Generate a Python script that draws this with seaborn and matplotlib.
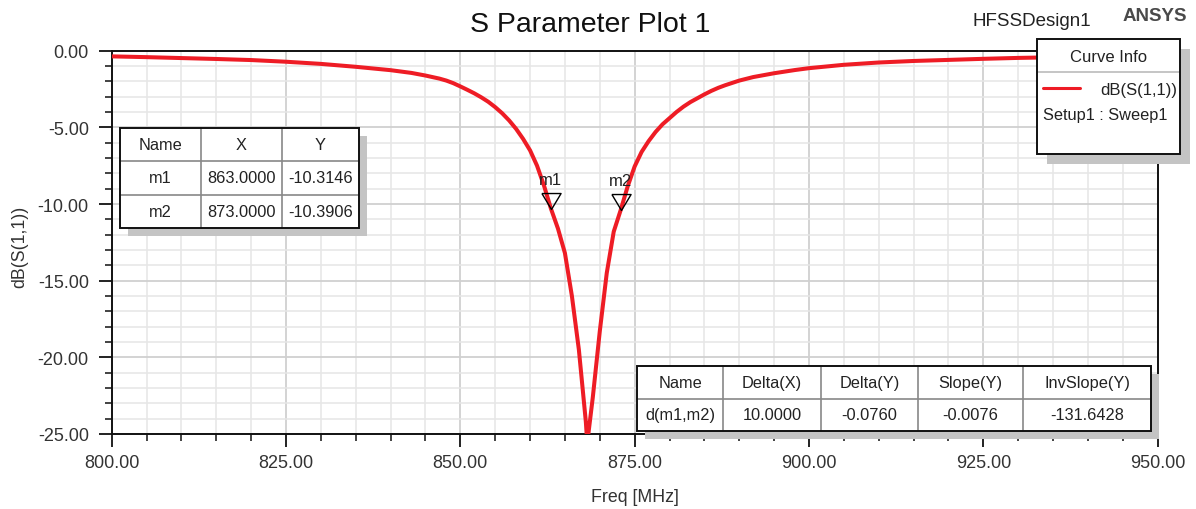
import pandas as pd
import matplotlib
matplotlib.use("Agg")
import matplotlib.pyplot as plt
import seaborn as sns
from matplotlib.patches import Rectangle
from matplotlib.lines import Line2D
from matplotlib.ticker import MultipleLocator, FormatStrFormatter

# --- Data ---
freq_mhz = [800, 805, 810, 815, 820, 825, 830, 835, 840, 843, 845, 847, 848, 849, 850,
            851, 852, 853, 854, 855, 856, 857, 858, 859, 860, 861, 862, 863, 864, 865,
            866, 867, 868, 868.2, 869, 870, 871, 872, 873, 874, 875, 876, 877, 878, 879,
            880, 881, 882, 883, 884, 885, 886, 887, 888, 889, 890, 892, 895, 898, 900,
            905, 910, 915, 920, 925, 930, 935, 940, 945, 950]
s11_db = [-0.37, -0.42, -0.48, -0.54, -0.61, -0.72, -0.86, -1.05, -1.27, -1.45, -1.62,
          -1.82, -1.95, -2.12, -2.33, -2.55, -2.78, -3.04, -3.33, -3.68, -4.08, -4.55,
          -5.1, -5.75, -6.5, -7.5, -8.8, -10.31, -11.6, -13.2, -16.0, -19.5, -24.2, -25.6,
          -22.6, -18.3, -14.5, -11.8, -10.39, -8.85, -7.55, -6.6, -5.9, -5.3, -4.8, -4.4,
          -4.0, -3.65, -3.35, -3.1, -2.85, -2.62, -2.42, -2.25, -2.1, -1.95, -1.72,
          -1.47, -1.26, -1.14, -0.92, -0.77, -0.67, -0.6, -0.53, -0.47, -0.43, -0.39,
          -0.36, -0.33]

marker_names = ["m1", "m2"]
marker_freq = [863.0, 873.0]
marker_db = [-10.3146, -10.3906]

delta_header = ["Name", "Delta(X)", "Delta(Y)", "Slope(Y)", "InvSlope(Y)"]
delta_values = ["d(m1,m2)", "10.0000", "-0.0760", "-0.0076", "-131.6428"]

W, H = 1196, 510


def fx(px):
    return px / W


def fy(py):
    return 1 - py / H


sns.set_theme(style="white")
plt.rcParams["font.family"] = ["Liberation Sans", "DejaVu Sans"]

fig = plt.figure(figsize=(W / 100, H / 100), dpi=100)
ax = fig.add_axes([fx(111.7), fy(435), (1157.6 - 111.7) / W, (435 - 51.7) / H])

df = pd.DataFrame({"Freq": freq_mhz, "dB": s11_db})
sns.lineplot(data=df, x="Freq", y="dB", color="#ee1c25", linewidth=2.9, ax=ax, zorder=3)

# markers: hollow triangles with the tip on the point
tri = [(-0.6, 1.0), (0.6, 1.0), (0.0, 0.0), (-0.6, 1.0)]
ax.plot(marker_freq, marker_db, linestyle="none", marker=tri, markersize=23,
        markerfacecolor="none", markeredgecolor="black", markeredgewidth=1.0, zorder=4)
for name, f, d in zip(marker_names, marker_freq, marker_db):
    ax.annotate(name, (f, d), xytext=(0, 21), textcoords="offset points",
                ha="center", va="center", fontsize=12, color="#222")

ax.set_xlim(800, 950)
ax.set_ylim(-25, 0)
ax.xaxis.set_major_locator(MultipleLocator(25))
ax.xaxis.set_minor_locator(MultipleLocator(5))
ax.yaxis.set_major_locator(MultipleLocator(5))
ax.yaxis.set_minor_locator(MultipleLocator(1))
ax.xaxis.set_major_formatter(FormatStrFormatter("%.2f"))
ax.yaxis.set_major_formatter(FormatStrFormatter("%.2f"))
ax.grid(which="major", color="#d0d0d0", linewidth=1.3)
ax.grid(which="minor", color="#e6e6e6", linewidth=1.1)
ax.set_axisbelow(True)
ax.tick_params(which="both", bottom=True, left=True, top=False, right=False,
               direction="out", color="#111")
ax.tick_params(which="major", length=9.5, width=1.3, labelsize=13, labelcolor="#333")
ax.tick_params(axis="y", which="major", pad=7)
ax.tick_params(axis="x", which="major", pad=5)
ax.tick_params(which="minor", length=5, width=1.1)
for sp in ax.spines.values():
    sp.set_visible(True)
    sp.set_color("#111")
    sp.set_linewidth(1.4)

ax.set_xlabel("Freq [MHz]", fontsize=12.8, color="#333")
ax.set_ylabel("dB(S(1,1))", fontsize=12.8, color="#333")
ax.xaxis.set_label_coords(0.5, -0.14)
ax.yaxis.set_label_coords(-0.08, 0.49)

fig.text(fx(590), fy(32), "S Parameter Plot 1", ha="center", va="baseline",
         fontsize=20.5, color="#111")
fig.text(fx(972), fy(26), "HFSSDesign1", ha="left", va="baseline", fontsize=13.5, color="#222")
fig.text(fx(1123), fy(21), "ANSYS", ha="left", va="baseline", fontsize=13.5,
         fontweight="bold", color="#4a4a4a")


def box(x0, y0, w, h, shadow=8):
    fig.add_artist(Rectangle((fx(x0 + shadow), fy(y0 + h + shadow)), w / W, h / H,
                             transform=fig.transFigure, facecolor="#c4c4c4",
                             edgecolor="none", zorder=5))
    fig.add_artist(Rectangle((fx(x0), fy(y0 + h)), w / W, h / H,
                             transform=fig.transFigure, facecolor="white",
                             edgecolor="none", zorder=6))


def outline(x0, y0, w, h):
    fig.add_artist(Rectangle((fx(x0), fy(y0 + h)), w / W, h / H,
                             transform=fig.transFigure, facecolor="none",
                             edgecolor="#111", linewidth=1.4, zorder=8))


def draw_table(x0, y0, col_w, row_h, rows, fontsize=11.8):
    tw = sum(col_w)
    th = row_h * len(rows)
    box(x0, y0, tw, th)
    cx = x0
    for w in col_w[:-1]:
        cx += w
        fig.add_artist(Line2D([fx(cx), fx(cx)], [fy(y0), fy(y0 + th)],
                              transform=fig.transFigure, color="#888", linewidth=1.2, zorder=7))
    for r in range(1, len(rows)):
        fig.add_artist(Line2D([fx(x0), fx(x0 + tw)], [fy(y0 + r * row_h)] * 2,
                              transform=fig.transFigure, color="#888", linewidth=1.2, zorder=7))
    for r, row in enumerate(rows):
        cx = x0
        for c, txt in enumerate(row):
            fig.text(fx(cx + col_w[c] / 2), fy(y0 + row_h * (r + 0.5)), txt,
                     ha="center", va="center", fontsize=fontsize, color="#222", zorder=9)
            cx += col_w[c]
    outline(x0, y0, tw, th)


marker_rows = [["Name", "X", "Y"]]
for name, f, d in zip(marker_names, marker_freq, marker_db):
    marker_rows.append([name, f"{f:.4f}", f"{d:.4f}"])
draw_table(120, 129, [81, 80.7, 77.3], 33.3, marker_rows)
draw_table(637, 367, [86, 98, 97, 105, 128], 32.5, [delta_header, delta_values])

# curve info legend
lx, ly, lw, lh = 1037, 39.5, 143, 115
box(lx, ly, lw, lh, shadow=10)
fig.add_artist(Line2D([fx(lx), fx(lx + lw)], [fy(72.7)] * 2, transform=fig.transFigure,
                      color="#bbb", linewidth=1.2, zorder=7))
fig.add_artist(Line2D([fx(1043), fx(1080)], [fy(88.7)] * 2, transform=fig.transFigure,
                      color="#ee1c25", linewidth=2.2, zorder=7))
fig.text(fx(lx + lw / 2), fy(58), "Curve Info", ha="center", va="center",
         fontsize=12, color="#222", zorder=9)
fig.text(fx(1177), fy(91), "dB(S(1,1))", ha="right", va="center",
         fontsize=12, color="#222", zorder=9)
fig.text(fx(1043), fy(116), "Setup1 : Sweep1", ha="left", va="center",
         fontsize=11.8, color="#222", zorder=9)
outline(lx, ly, lw, lh)

fig.savefig("out.png", dpi=100)
